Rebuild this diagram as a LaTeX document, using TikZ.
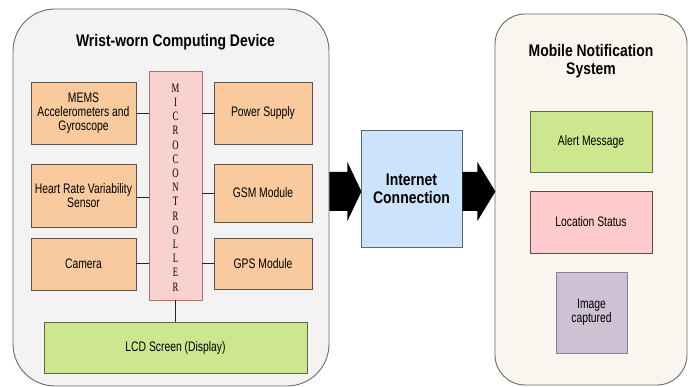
\documentclass[tikz,border=0pt]{standalone}
\usepackage{fontspec}
\setmainfont{Liberation Sans}[FakeStretch=0.75]
\newfontfamily\headfont{Liberation Sans}[FakeStretch=0.83]
\newfontfamily\microfont{Liberation Serif}[FakeStretch=0.68]
\usetikzlibrary{calc}

\definecolor{devfill}{HTML}{F3F3F3}
\definecolor{devline}{HTML}{6A6A6A}
\definecolor{mobfill}{HTML}{F8F6EE}
\definecolor{orfill}{HTML}{F9CA9D}
\definecolor{orline}{HTML}{5E5346}
\definecolor{mcfill}{HTML}{F9D2CF}
\definecolor{mcline}{HTML}{B0726C}
\definecolor{grfill}{HTML}{CDE78E}
\definecolor{grline}{HTML}{5D6A48}
\definecolor{blfill}{HTML}{CCE4FB}
\definecolor{blline}{HTML}{5B6671}
\definecolor{pkfill}{HTML}{FDCBCB}
\definecolor{pkline}{HTML}{5E4A4A}
\definecolor{pufill}{HTML}{CEC1D4}
\definecolor{puline}{HTML}{8A8090}

\tikzset{
  panel/.style={draw=devline, line width=0.9pt, inner sep=0pt},
  unit/.style={line width=0.8pt, inner sep=0pt, align=center,
    font=\fontsize{13.8}{14}\selectfont},
  orangebox/.style={unit, fill=orfill, draw=orline},
  heading/.style={inner sep=0pt, align=center,
    font=\headfont\bfseries\fontsize{16.8}{18}\selectfont},
  wire/.style={draw=black!85, line width=0.8pt},
  blockarrow/.style={fill=black, draw=none}
}

\begin{document}
\begin{tikzpicture}[x=1pt,y=-1pt]
\clip (0,0) rectangle (691,387);
\fill[white] (0,0) rectangle (691,387);

% wrist-worn device panel
\node[panel, fill=devfill, rounded corners=42pt, minimum width=316pt, minimum height=377pt] (dev) at (171,197.5) {};
\node[heading] (devtitle) at (175.5,42) {Wrist-worn Computing Device};

% microcontroller column
\node[unit, fill=mcfill, draw=mcline, minimum width=53pt, minimum height=229pt] (mcu) at (175.5,185.5) {};
\node[inner sep=0pt, align=center, font=\microfont\fontsize{12.8}{14.2}\selectfont] (mcutext) at (175.5,187.5)
  {M\\I\\C\\R\\O\\C\\O\\N\\T\\R\\O\\L\\L\\E\\R};

% peripherals
\node[orangebox, minimum width=105pt, minimum height=62pt] (mems) at (83.5,113) {MEMS\\Accelerometers and\\Gyroscope};
\node[orangebox, minimum width=105pt, minimum height=63pt] (hrv) at (83.5,195.5) {Heart Rate Variability\\Sensor};
\node[orangebox, minimum width=105pt, minimum height=52pt] (cam) at (83.5,264) {Camera};
\node[orangebox, minimum width=98pt, minimum height=62pt] (pwr) at (263,113) {Power Supply};
\node[orangebox, minimum width=98pt, minimum height=58pt] (gsm) at (263,193) {GSM Module};
\node[orangebox, minimum width=98pt, minimum height=51pt] (gps) at (263,263.5) {GPS Module};
\node[unit, fill=grfill, draw=grline, minimum width=263pt, minimum height=51pt] (lcd) at (175.5,347.5) {LCD Screen (Display)};

% links to the microcontroller
\draw[wire] (mems.east) -- (mems.east -| mcu.west);
\draw[wire] (hrv.east |- 0,197) -- (mcu.west |- 0,197);
\draw[wire] (cam.east |- 0,263) -- (mcu.west |- 0,263);
\draw[wire] (pwr.west) -- (pwr.west -| mcu.east);
\draw[wire] (gsm.west) -- (gsm.west -| mcu.east);
\draw[wire] (gps.west |- 0,263) -- (mcu.east |- 0,263);
\draw[wire] (mcu.south) -- (lcd.north);

% internet link
\node[unit, fill=blfill, draw=blline, minimum width=101pt, minimum height=117pt,
  font=\headfont\bfseries\fontsize{16.8}{18}\selectfont] (net) at (411.5,188.5) {Internet\\Connection};

% mobile notification panel
\node[panel, fill=mobfill, rounded corners=30pt, minimum width=192pt, minimum height=371pt] (mob) at (591,199.5) {};
\node[heading] (mobtitle) at (591,61) {Mobile Notification\\System};
\node[unit, fill=grfill, draw=grline, minimum width=122pt, minimum height=61pt] (alert) at (591,141.5) {Alert Message};
\node[unit, fill=pkfill, draw=pkline, minimum width=122pt, minimum height=62pt] (loc) at (591,222) {Location Status};
\node[unit, fill=pufill, draw=puline, minimum width=71pt, minimum height=81pt,
  font=\fontsize{13.8}{12.8}\selectfont] (img) at (591.5,312.5) {Image\\captured};

% block arrows
\fill[blockarrow] (dev.east |- net.center) ++(0,-16.5) -- ++(18,0) -- ++(0,-10)
  -- ++(14,29.5) -- ++(-14,29.5) -- ++(0,-10) -- ++(-18,0) -- cycle;
\fill[blockarrow] (net.east) ++(0,-16.5) -- ++(15,0) -- ++(0,-10)
  -- ++(18,29.5) -- ++(-18,29.5) -- ++(0,-10) -- ++(-15,0) -- cycle;
\end{tikzpicture}
\end{document}
